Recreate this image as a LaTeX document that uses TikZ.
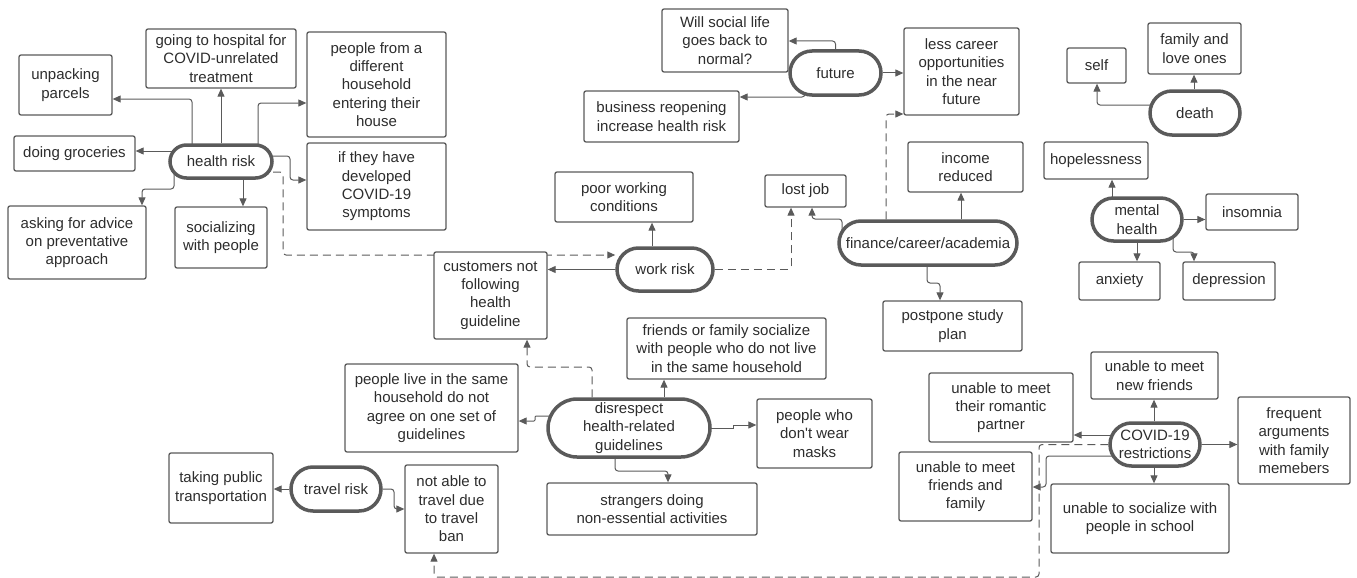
\documentclass[tikz,border=0pt]{standalone}
\usepackage{fontspec}
\setmainfont{Liberation Sans}
\usetikzlibrary{positioning,shapes.misc,arrows.meta,backgrounds}
\definecolor{linec}{RGB}{90,90,90}
\definecolor{txtc}{RGB}{45,45,45}
\tikzset{
  box/.style={draw=linec,line width=1.3pt,rounded corners=2pt,fill=white,
    align=center,inner sep=0pt,text=txtc,font=\fontsize{15}{18.3}\selectfont},
  pill/.style={rounded rectangle,draw=linec,line width=3.5pt,fill=white,
    align=center,inner sep=0pt,text=txtc,font=\fontsize{15}{18.3}\selectfont},
  sz/.style 2 args={minimum width=#1,minimum height=#2},
  link/.style={->,draw=linec,line width=1pt,rounded corners=3pt},
  dlink/.style={link,dash pattern=on 8pt off 5pt},
}
\begin{document}
\begin{tikzpicture}[x=1pt,y=-1pt,>={Triangle[length=8pt,width=7pt]}]
\useasboundingbox (0,0) rectangle (1357,578);
% health risk
\node[pill,sz={102}{33}] (hrisk) at (221,161.5) {health risk};
\node[box,sz={93}{60}] (parcels) at (65.5,85) {unpacking\\parcels};
\node[box,sz={150}{59}] (hospital) at (221,58.5) {going to hospital for\\COVID-unrelated\\treatment};
\node[box,sz={139}{105}] (household) at (376.5,84.5) {people from a\\different\\household\\entering their\\house};
\node[box,sz={121}{35}] (groceries) at (74.5,153.5) {doing groceries};
\node[box,sz={139}{87}] (symptoms) at (376.5,186.5) {if they have\\developed\\COVID-19\\symptoms};
\node[box,sz={138}{73}] (advice) at (77,242.5) {asking for advice\\on preventative\\approach};
\node[box,sz={92}{61}] (socializing) at (221,237.5) {socializing\\with people};
% future
\node[pill,sz={91}{44}] (future) at (835.5,73) {future};
\node[box,sz={126}{63}] (willsocial) at (725,40.5) {Will social life\\goes back to\\normal?};
\node[box,sz={155}{51}] (business) at (661.5,116.5) {business reopening\\increase health risk};
\node[box,sz={115}{87}] (lesscareer) at (961.5,71.5) {less career\\opportunities\\in the near\\future};
% finance
\node[pill,sz={178}{44}] (finance) at (928,243) {finance/career/academia};
\node[box,sz={115}{50}] (income) at (965.5,167) {income\\reduced};
\node[box,sz={81}{32}] (lostjob) at (805.5,191) {lost job};
\node[box,sz={139}{50}] (postpone) at (952.5,326) {postpone study\\plan};
% work risk
\node[pill,sz={96}{43}] (workrisk) at (665,269.5) {work risk};
\node[box,sz={138}{50}] (poorwork) at (624,197) {poor working\\conditions};
\node[box,sz={113}{87}] (customers) at (490.5,295.5) {customers not\\following\\health\\guideline};
% disrespect
\node[pill,sz={162}{58}] (disrespect) at (629,428) {disrespect\\health-related\\guidelines};
\node[box,sz={173}{88}] (samehh) at (431.5,408) {people live in the same\\household do not\\agree on one set of\\guidelines};
\node[box,sz={199}{61}] (friendsfam) at (726.5,348.5) {friends or family socialize\\with people who do not live\\in the same household};
\node[box,sz={115}{69}] (masks) at (814.5,433.5) {people who\\don\textquotesingle t wear\\masks};
\node[box,sz={210}{52}] (strangers) at (652,509) {strangers doing\\non-essential activities};
% travel risk
\node[pill,sz={90}{44}] (travel) at (336,489) {travel risk};
\node[box,sz={104}{70}] (publictr) at (221,488) {taking public\\transportation};
\node[box,sz={93}{88}] (travelban) at (451.5,509) {not able to\\travel due\\to travel\\ban};
% death
\node[pill,sz={90}{44}] (death) at (1195,113) {death};
\node[box,sz={59}{35}] (self) at (1096.5,65.5) {self};
\node[box,sz={93}{51}] (lovedones) at (1194.5,48.5) {family and\\love ones};
% mental health
\node[pill,sz={90}{43}] (mental) at (1137,219.5) {mental\\health};
\node[box,sz={104}{37}] (hopeless) at (1096,160.5) {hopelessness};
\node[box,sz={92}{36}] (insomnia) at (1252,212) {insomnia};
\node[box,sz={81}{38}] (anxiety) at (1119.5,281) {anxiety};
\node[box,sz={92}{38}] (depression) at (1229,281) {depression};
% covid restrictions
\node[pill,sz={90}{43}] (covid) at (1155,444.5) {COVID-19\\restrictions};
\node[box,sz={127}{47}] (newfriends) at (1154.5,375.5) {unable to meet\\new friends};
\node[box,sz={144}{69}] (romantic) at (1001,407.5) {unable to meet\\their romantic\\partner};
\node[box,sz={112}{87}] (arguments) at (1294,440.5) {frequent\\arguments\\with family\\memebers};
\node[box,sz={133}{69}] (friendsfamily) at (965.5,486.5) {unable to meet\\friends and\\family};
\node[box,sz={178}{69}] (school) at (1140,518.5) {unable to socialize with\\people in school};

\begin{scope}[on background layer]
\draw[link] (hrisk.center -| 192,0) |- (parcels.east |- 0,99);
\draw[link] (hrisk.north) -- (hospital.south);
\draw[link] (hrisk.center -| 258,0) |- (household.west |- 0,103);
\draw[link] (hrisk.center |- 0,151) -- (groceries.east |- 0,151);
\draw[link] (hrisk.center |- 0,156) -- (290,156) -- (290,180) -- (symptoms.west |- 0,180);
\draw[dlink] (hrisk.center |- 0,172) -- (283,172) -- (283,255) -- (workrisk.west |- 0,255);
\draw[link] (hrisk.center -| 174,0) -- (174,189) -- (142,189) -- (advice.north -| 142,0);
\draw[link] (hrisk.south -| 243,0) -- (socializing.north -| 243,0);

\draw[link] (future.north) |- (willsocial.east |- 0,41);
\draw[link] (future.center -| 805,0) |- (business.east |- 0,97);
\draw[link] (future.east) -- (lesscareer.west |- future.east);

\draw[dlink] (finance.north -| 886,0) |- (lesscareer.west |- 0,114);
\draw[link] (finance.north -| 961,0) -- (income.south -| 961,0);
\draw[link] (finance.center -| 842,0) |- (812,219) -- (lostjob.south -| 812,0);
\draw[link] (finance.south -| 927,0) -- (927,283) -- (940,283) -- (postpone.north -| 940,0);

\draw[dlink] (workrisk.east) -| (lostjob.south -| 791,0);
\draw[link] (workrisk.north -| 652,0) -- (poorwork.south -| 652,0);
\draw[link] (workrisk.west) -- (customers.east |- workrisk.west);

\draw[dlink] (disrespect.north -| 592,0) |- (527,367) -- (customers.south -| 527,0);
\draw[link,rounded corners=1pt] (disrespect.center |- 0,416) -- (535,416) -- (535,421) -- (samehh.east |- 0,421);
\draw[link] (disrespect.north -| 664,0) -- (friendsfam.south -| 664,0);
\draw[link,rounded corners=0pt] (disrespect.center |- 0,428) -- (733,428) -- (733,425) -- (masks.west |- 0,425);
\draw[link] (disrespect.south -| 615,0) |- (668,471) -- (strangers.north -| 668,0);

\draw[link] (travel.west) -- (publictr.east |- travel.west);
\draw[link] (travel.east) -- (394,489) -- (394,509) -- (travelban.west);

\draw[dlink] (covid.west) -| (1039,577) -| (travelban.south -| 434,0);
\draw[link] (covid.north -| 1154,0) -- (newfriends.south -| 1154,0);
\draw[link] (covid.center |- 0,435) -- (romantic.east |- 0,435);
\draw[link] (covid.east) -- (arguments.west |- covid.east);
\draw[link] (covid.south -| 1154,0) -- (school.north -| 1154,0);
\draw[link] (covid.center |- 0,456) -- (1046,456) -- (1046,487) -- (friendsfamily.east |- 0,487);

\draw[link] (death.north -| 1194,0) -- (lovedones.south -| 1194,0);
\draw[link] (death.center |- 0,105) -| (self.south -| 1097,0);

\draw[link] (mental.center -| 1112,0) -- (hopeless.south -| 1112,0);
\draw[link] (mental.east) -- (insomnia.west |- mental.east);
\draw[link] (mental.south) -- (anxiety.north -| mental.south);
\draw[link] (mental.center -| 1173,0) |- (1194,252) -- (depression.north -| 1194,0);
\end{scope}
\end{tikzpicture}
\end{document}
